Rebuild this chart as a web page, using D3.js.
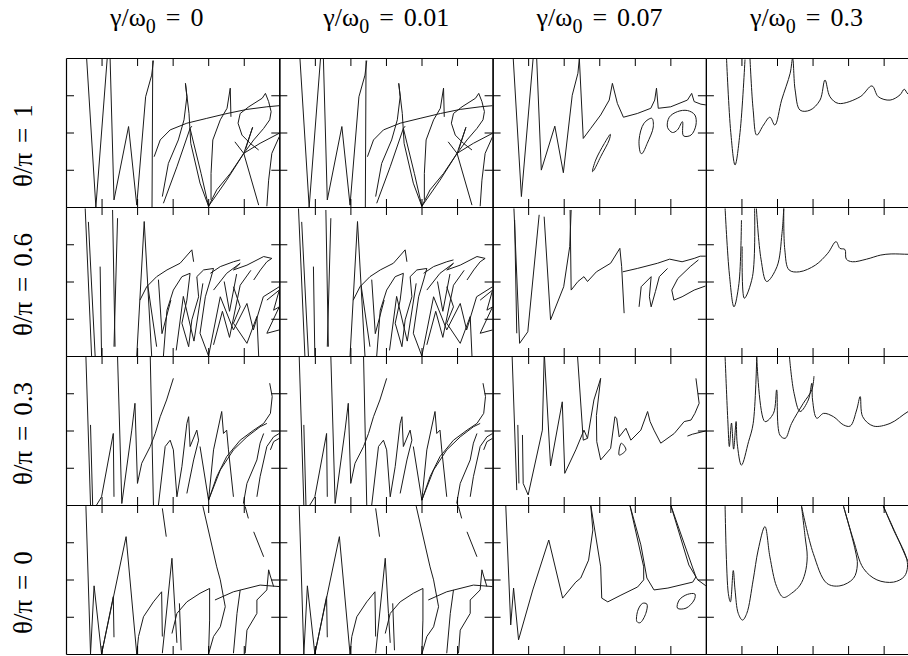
<!DOCTYPE html>
<html lang="en">
<head>
  <meta charset="UTF-8">
  <style>
    body { margin: 0; background: #fff; }
    #chart { position: relative; width: 908px; height: 656px; overflow: hidden; }
    #chart svg { position: absolute; left: 0; top: 0; }
    .lab {
      position: absolute; left: 0; top: 0;
      font-family: "Liberation Serif", "Times New Roman", serif;
      white-space: nowrap; color: #000;
      transform-origin: 0 0;
    }
    .lab sub { font-size: 20px; vertical-align: -7px; line-height: 0; }
  </style>
  <script src="https://d3js.org/d3.v7.min.js"></script>
</head>
<body>
  <div id="chart"></div>
  <script>
    // column / row labels
    const gammaLabels = ["0", "0.01", "0.07", "0.3"];
    const thetaLabels = ["1", "0.6", "0.3", "0"];
    const xTicks = [1, 2, 3, 4, 5];
    const yTicks = [1, 2, 3];

    // curves per panel: list of polylines, points are [x, y] in tick units (x 0..6, y 0..4)
    // theta/pi = 1
    const th1_g0 = [
      [[0.58,4],[0.84,0],[1.16,4]],
      [[1.24,4],[1.35,0.19],[1.76,2.16],[1.99,0.05],[2.24,2.96],[2.41,3.54],[2.46,3.93]],
      [[2.44,3.93],[2.42,0]],
      [[2.48,1.35],[2.65,1.80],[2.93,2.07],[3.40,2.25],[3.96,2.38],[4.53,2.51],[5.09,2.62],[5.65,2.69],[6.0,2.72]],
      [[2.71,0.28],[2.88,1.17],[3.16,1.80],[3.32,2.34],[3.40,2.96],[3.36,3.32],[3.46,2.51],[3.51,1.71],[3.77,0.64],[4.01,0.02]],
      [[2.74,0.10],[3.12,1.08],[3.49,2.11],[3.54,2.17]],
      [[3.49,2.11],[3.80,0.9],[4.01,0.02]],
      [[4.01,0.02],[4.24,0.46],[4.62,0.90],[5.0,1.44],[5.28,1.80],[5.56,2.11],[5.73,2.34],[5.77,2.56],[5.70,2.83],[5.61,3.05],[5.52,2.92],[5.14,2.69],[4.90,2.51],[4.84,2.25],[4.95,1.93],[5.18,1.71],[5.42,1.53]],
      [[4.01,0.02],[4.52,0.72],[5.0,1.44],[5.46,1.71],[6.0,1.98]],
      [[5.0,1.44],[5.25,2.14],[5.05,1.55]],
      [[4.75,1.75],[5.0,1.44],[5.42,0.05]],
      [[5.65,0.02],[5.70,0.72],[5.79,1.44],[6.0,1.89]],
      [[4.08,0.19],[4.08,0.90],[4.13,1.80],[4.34,2.34],[4.53,2.65],[4.62,3.19],[4.64,2.42]]
    ];
    const th1_g001 = th1_g0;
    const th1_g007 = [
      [[0.58,3.99],[0.81,0.28],[1.14,3.99]],
      [[1.24,3.99],[1.37,0.99],[1.75,2.17],[1.99,0.92],[2.24,3.0],[2.40,3.59],[2.44,3.99]],
      [[2.44,3.99],[2.55,1.84],[2.76,2.11],[3.04,2.47],[3.28,2.87],[3.37,3.32],[3.51,2.78],[3.68,2.41],[4.07,2.51],[4.45,2.65],[4.56,2.87],[4.61,3.19],[4.66,2.65],[5.01,2.69],[5.48,2.87],[5.60,3.05],[5.67,2.83],[5.86,2.76],[6.0,2.74]],
      [[2.81,0.95],[2.90,1.26],[3.14,1.70],[3.31,1.95],[3.28,1.80],[3.04,1.35],[2.85,0.99],[2.81,0.95]],
      [[4.17,1.44],[4.12,1.80],[4.26,2.25],[4.48,2.38],[4.52,2.15],[4.35,1.71],[4.21,1.44],[4.17,1.44]],
      [[5.34,2.29],[5.20,2.07],[5.06,2.0],[4.92,2.14],[4.97,2.41],[5.20,2.56],[5.48,2.59],[5.69,2.47],[5.72,2.20],[5.58,1.93],[5.37,1.91],[5.34,2.29]]
    ];
    const th1_g03 = [
      [[0.58,3.99],[0.70,2.0],[0.82,1.13],[0.96,2.0],[1.10,3.96]],
      [[1.24,3.99],[1.33,2.6],[1.43,1.93],[1.62,2.2],[1.80,2.41],[1.94,2.20],[2.13,2.87],[2.37,3.59],[2.44,3.99],[2.51,3.14],[2.65,2.60],[2.93,2.60],[3.21,2.87],[3.35,3.41],[3.49,2.96],[3.73,2.78],[4.34,2.96],[4.67,3.25],[4.85,2.96],[5.18,2.87],[5.46,3.01],[5.58,3.16],[5.69,3.03],[6.0,2.95]]
    ];

    // theta/pi = 0.6
    const th06_g0 = [
      [[0.54,3.96],[0.72,0]],
      [[0.63,3.6],[0.82,0]],
      [[0.96,2.40],[1.0,0]],
      [[1.31,3.92],[1.38,0.25]],
      [[1.45,3.70],[1.35,0.25]],
      [[2.20,3.61],[1.99,0]],
      [[2.20,3.61],[2.41,0]],
      [[2.08,1.50],[2.27,1.86],[2.55,2.13],[2.84,2.31],[3.21,2.49],[3.54,2.85],[3.59,2.53]],
      [[2.74,0],[2.84,1.23],[3.02,1.77],[3.26,2.13],[3.49,2.22],[3.40,1.50],[3.26,0.88],[3.45,0.25],[3.54,0.97],[3.73,1.59],[3.68,2.13],[3.87,2.31],[4.15,2.35],[4.06,2.04],[3.92,1.59],[3.77,0.61],[4.01,0]],
      [[4.01,0],[4.34,1.59],[4.71,0.70],[5.09,1.41],[5.27,0.70],[5.55,1.59],[6.0,1.86]],
      [[4.15,1.77],[4.52,2.22],[4.90,2.49],[4.71,2.31],[5.09,2.44],[5.56,2.67],[5.79,2.62],[5.65,2.53],[5.47,2.31],[5.28,2.04]],
      [[4.06,2.22],[4.34,2.40],[4.71,2.53],[4.90,2.58]],
      [[4.71,1.86],[4.90,1.32],[4.71,0.88],[5.09,0.34],[5.37,1.06],[5.42,0]],
      [[5.65,1.50],[6.0,1.77],[5.84,1.23],[6.0,1.32],[5.65,0.61],[6.0,0.70]],
      [[2.30,1.90],[2.55,0.25]],
      [[2.60,2.05],[2.70,0.6],[2.95,1.5]],
      [[4.15,0.3],[4.4,1.2],[4.6,0.5],[4.9,1.9],[5.2,2.3]],
      [[3.10,0.15],[3.30,1.60],[3.60,0.40],[3.85,1.95]],
      [[4.45,2.0],[4.60,1.2],[4.80,2.2]]
    ];
    const th06_g001 = th06_g0;
    const th06_g007 = [
      [[0.60,3.96],[0.76,0.34],[0.99,0.65],[1.31,3.79]],
      [[0.62,3.65],[0.68,0.61]],
      [[1.45,3.74],[1.63,0.97],[2.0,1.86],[2.17,2.94],[2.21,3.92]],
      [[2.18,3.92],[2.21,1.77],[2.40,2.0],[2.57,2.13],[2.67,2.0],[2.92,2.26],[3.32,2.49],[3.58,2.89],[3.63,2.40],[3.70,1.15]],
      [[3.66,2.26],[4.07,2.35],[4.64,2.49],[4.98,2.60],[5.33,2.53],[5.67,2.62],[5.84,2.68],[6.0,2.68]],
      [[4.12,1.32],[4.18,1.86],[4.46,2.13],[4.41,1.59],[4.46,1.32],[4.58,1.73],[4.69,2.13],[4.92,2.35]],
      [[5.21,2.08],[5.04,1.77],[5.10,1.50],[5.33,1.59],[5.67,1.77],[5.99,1.88]],
      [[5.21,2.08],[5.56,2.40],[5.79,2.58]]
    ];
    const th06_g03 = [
      [[0.54,3.96],[0.66,2.2],[0.79,1.32],[0.93,1.95],[1.0,3.65]],
      [[1.02,2.94],[1.08,1.55],[1.31,2.13],[1.37,3.96]],
      [[1.42,3.96],[1.55,2.6],[1.71,2.0],[2.0,2.40],[2.14,3.29],[2.19,3.96]],
      [[2.19,3.96],[2.22,2.85],[2.34,2.31],[2.63,2.26],[3.08,2.44],[3.43,2.76],[3.66,3.07],[3.77,2.89],[3.91,2.86],[3.95,2.60],[4.12,2.53],[4.52,2.60],[4.92,2.71],[5.21,2.74],[5.70,2.73],[6.0,2.73]]
    ];

    // theta/pi = 0.3
    const th03_g0 = [
      [[0.56,3.98],[0.69,0]],
      [[0.69,2.15],[0.75,0]],
      [[0.86,0],[1.0,0.22],[1.33,1.92],[1.35,0.22]],
      [[1.45,3.98],[1.57,0.04],[1.85,2.01],[1.94,2.73],[2.01,0.58],[2.13,1.12],[2.37,1.57],[2.51,1.92],[2.65,2.37],[2.83,2.82],[3.02,3.40]],
      [[2.37,3.98],[2.46,0]],
      [[2.60,0],[2.79,1.57],[2.93,1.74],[3.02,1.48],[3.12,0.22],[3.26,1.03],[3.40,2.19],[3.45,2.37],[3.49,1.57],[3.68,2.01],[3.73,1.74],[3.59,1.21],[3.40,0.31]],
      [[3.77,1.57],[4.01,0.13],[4.15,1.48],[4.38,2.51],[4.43,1.92],[4.52,2.01],[4.57,1.48],[4.71,0.22]],
      [[4.01,0.13],[4.24,0.76],[4.52,1.30],[4.90,1.74],[5.28,2.01],[5.56,2.19],[5.75,2.46],[5.80,2.91],[5.73,3.27]],
      [[4.01,0.13],[4.34,0.94],[4.71,1.48],[5.09,1.83],[5.46,2.10],[5.65,2.19]],
      [[4.99,0.04],[5.09,0.58],[5.37,1.21],[5.46,1.66],[5.56,1.92]],
      [[5.37,0.22],[5.46,0.76],[5.65,1.57],[5.84,1.83],[6.0,1.92]],
      [[5.75,1.48],[5.84,1.70],[6.0,1.79]]
    ];
    const th03_g001 = th03_g0;
    const th03_g007 = [
      [[0.55,3.98],[0.68,0.40]],
      [[0.71,2.15],[0.74,0.58]],
      [[0.84,1.88],[0.86,0.58]],
      [[0.86,0.58],[1.0,0.27],[1.40,2.01],[1.45,3.98]],
      [[1.46,3.98],[1.63,1.05],[1.96,2.77],[2.03,0.85],[2.34,1.48],[2.57,2.01],[2.67,1.79],[2.85,2.82],[3.04,3.40]],
      [[2.39,3.98],[2.55,1.74],[2.67,1.79]],
      [[3.04,3.40],[2.92,2.4],[2.93,1.70],[3.04,1.21],[3.32,1.52],[3.44,2.37],[3.49,2.33],[3.56,1.83],[3.75,2.06],[3.89,1.74],[4.17,2.01],[4.36,2.51],[4.43,2.24],[4.54,2.01],[4.73,1.66],[5.11,1.92],[5.39,2.24],[5.58,2.28],[5.69,2.46],[5.81,2.73],[5.72,3.40]],
      [[3.56,1.34],[3.62,1.66],[3.75,1.48],[3.56,1.34]],
      [[5.48,1.85],[5.62,1.90],[6.0,1.99]]
    ];
    const th03_g03 = [
      [[0.54,3.98],[0.62,2.2],[0.66,1.57],[0.72,2.2],[0.78,1.5],[0.85,2.24],[0.88,1.66],[1.0,1.07],[1.2,1.7],[1.33,2.19],[1.43,3.98]],
      [[1.43,3.98],[1.66,2.24],[1.90,2.46],[1.99,3.09],[2.08,1.88],[2.23,1.79],[2.41,2.19],[2.74,2.73],[2.98,3.09],[3.04,3.46]],
      [[2.35,3.98],[2.48,3.0],[2.65,2.51],[2.88,2.82],[2.98,3.27],[3.0,2.82],[3.12,2.33],[3.31,2.46],[3.59,2.37],[3.87,2.15],[4.06,2.12],[4.24,2.55],[4.34,2.91],[4.41,2.37],[4.71,2.12],[5.18,2.19],[5.69,2.51],[6.0,2.65]]
    ];

    // theta/pi = 0
    const th0_g0 = [
      [[0.56,3.97],[0.69,0]],
      [[0.69,0],[0.79,1.83],[1.0,0],[1.33,1.54],[1.35,0.45]],
      [[1.0,0],[1.69,3.15],[1.99,0]],
      [[1.99,0],[2.04,0.47],[2.18,1.0],[2.46,1.40],[2.69,1.67],[2.71,0.47]],
      [[2.71,0.02],[2.98,2.57],[3.07,1.09],[3.12,0.3]],
      [[2.98,0.55],[3.12,1.09],[3.40,1.40],[3.77,1.63],[4.04,1.76],[4.04,0.91],[4.01,0]],
      [[4.01,0],[4.15,0.47],[4.34,0.73],[4.48,1.27],[4.34,1.99],[4.24,2.34],[3.85,3.97]],
      [[4.19,1.45],[4.71,1.67],[5.46,1.85],[6.0,1.81]],
      [[4.90,1.72],[4.81,1.09],[4.71,0.02]],
      [[5.04,0.02],[5.09,0.64],[5.37,1.09],[5.37,1.45],[5.65,1.72],[5.70,2.26],[5.74,2.12],[5.84,1.81]],
      [[3.19,1.36],[3.24,0.1]],
      [[2.71,3.91],[2.82,3.15]],
      [[5.04,3.96],[5.13,3.64]],
      [[5.28,3.28],[5.56,2.61]]
    ];
    const th0_g001 = th0_g0;
    const th0_g007 = [
      [[0.37,4.0],[0.51,0.78],[0.59,1.77],[0.73,0.38],[1.13,1.72],[1.58,3.06],[1.97,1.50],[2.34,1.93],[2.48,2.04],[2.70,2.52],[2.82,3.33],[2.76,4.0]],
      [[2.76,4.0],[3.04,2.34],[3.07,1.50],[3.24,1.40],[3.61,1.58],[4.08,1.80],[4.25,1.99],[4.25,2.34],[3.86,4.0],[4.17,2.93],[4.34,2.04],[4.54,1.72],[4.93,1.77],[5.63,1.93],[5.72,2.07],[5.63,2.31],[5.01,4.0],[5.52,2.39],[5.77,1.99],[6.0,1.83]],
      [[4.06,0.87],[4.09,1.18],[4.22,1.36],[4.34,1.34],[4.31,1.09],[4.15,0.84],[4.06,0.87]],
      [[5.20,1.23],[5.25,1.45],[5.48,1.60],[5.69,1.61],[5.67,1.45],[5.44,1.23],[5.20,1.23]]
    ];
    const th0_g03 = [
      [[0.54,3.97],[0.63,1.63],[0.69,1.40],[0.77,2.24],[0.82,1.72],[0.91,1.09],[1.03,0.91],[1.15,1.09],[1.33,1.99],[1.47,2.79],[1.66,3.42],[1.80,2.61],[1.99,1.81],[2.18,1.52],[2.41,1.63],[2.65,1.85],[2.79,2.17],[2.85,2.61],[2.79,3.15],[2.69,3.97]],
      [[2.69,3.97],[3.02,2.70],[3.40,1.90],[3.77,1.83],[4.15,2.03],[4.26,2.39],[4.20,2.79],[3.87,3.97]],
      [[3.87,3.97],[4.15,3.06],[4.43,2.30],[4.81,1.99],[5.28,1.93],[5.58,2.08],[5.67,2.33],[5.63,2.61],[5.28,3.33],[4.99,3.97]],
      [[4.99,3.97],[5.42,3.06],[5.67,2.52],[5.85,2.21],[5.93,2.08]]
    ];

    const panels = [
      [th1_g0, th1_g001, th1_g007, th1_g03],
      [th06_g0, th06_g001, th06_g007, th06_g03],
      [th03_g0, th03_g001, th03_g007, th03_g03],
      [th0_g0, th0_g001, th0_g007, th0_g03]
    ];

    const width = 908, height = 656;
    const pw = 213.3, ph = 149;

    // panel placement
    const colX = d3.scaleLinear().domain([0, 4]).range([66, 66 + 4 * pw]);
    const rowY = d3.scaleLinear().domain([0, 4]).range([58, 58 + 4 * ph]);

    // scales inside a panel
    const x = d3.scaleLinear().domain([0, 6]).range([0, pw]);
    const y = d3.scaleLinear().domain([0, 4]).range([ph, 0]);

    const chart = d3.select("#chart");
    const svg = chart.append("svg")
      .attr("width", width)
      .attr("height", height);

    svg.append("defs").append("clipPath").attr("id", "pclip")
      .append("rect").attr("width", pw).attr("height", ph);

    const lineSharp = d3.line().x(d => x(d[0])).y(d => y(d[1]));
    const lineSmooth = d3.line().x(d => x(d[0])).y(d => y(d[1])).curve(d3.curveCatmullRom.alpha(0.5));
    const loopSmooth = d3.line().x(d => x(d[0])).y(d => y(d[1])).curve(d3.curveCatmullRomClosed.alpha(0.5));

    const isLoop = pts => {
      const a = pts[0], b = pts[pts.length - 1];
      return pts.length > 3 && a[0] === b[0] && a[1] === b[1];
    };

    panels.forEach((row, r) => {
      row.forEach((curves, c) => {
        const g = svg.append("g")
          .attr("transform", `translate(${colX(c)},${rowY(r)})`);

        g.append("g").attr("clip-path", "url(#pclip)")
          .selectAll("path")
          .data(curves)
          .join("path")
          .attr("fill", "none")
          .attr("stroke", "#1a1a1a")
          .attr("stroke-width", 1)
          .attr("stroke-linejoin", "round")
          .attr("d", d => {
            if (isLoop(d)) return loopSmooth(d.slice(0, -1));
            return c === 3 ? lineSmooth(d) : lineSharp(d);
          });

        const axes = [
          [d3.axisTop(x).tickValues(xTicks), `translate(0,0)`],
          [d3.axisBottom(x).tickValues(xTicks), `translate(0,${ph})`],
          [d3.axisLeft(y).tickValues(yTicks), `translate(0,0)`],
          [d3.axisRight(y).tickValues(yTicks), `translate(${pw},0)`]
        ];
        axes.forEach(([ax, tr]) => {
          const a = g.append("g")
            .attr("transform", tr)
            .call(ax.tickSizeInner(-8).tickSizeOuter(0).tickFormat(""));
          a.select(".domain").attr("stroke", "#000").attr("stroke-width", 1.2);
          a.selectAll(".tick line").attr("stroke", "#000").attr("stroke-width", 1);
        });
      });
    });

    // labels as HTML text laid over the svg
    // baseline offset for Liberation Serif with line-height equal to font size
    const baseOff = size => size * 0.891 - (size * 1.107 - size) / 2;

    gammaLabels.forEach((lab, c) => {
      const d = chart.append("div").attr("class", "lab")
        .style("font-size", "26px")
        .style("line-height", "26px")
        .style("transform", `translate(${colX(c) + 44}px, ${27 - baseOff(26)}px)`);
      d.append("span").text("γ/ω");
      d.append("sub").text("0");
      d.append("span").style("margin-left", "10px").text("=");
      d.append("span").style("margin-left", "10px").text(lab);
    });

    thetaLabels.forEach((lab, r) => {
      const d = chart.append("div").attr("class", "lab")
        .style("font-size", "27px")
        .style("line-height", "27px")
        .style("transform", `translate(33px, ${rowY(r + 1) - 20}px) rotate(-90deg) translate(0, ${-baseOff(27)}px)`);
      d.append("span").text("θ/π");
      d.append("span").style("margin-left", "10px").text("=");
      d.append("span").style("margin-left", "10px").text(lab);
    });
  </script>
</body>
</html>
